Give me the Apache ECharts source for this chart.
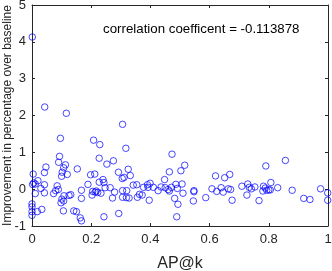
<!DOCTYPE html>
<html>
<head>
<meta charset="utf-8">
<script src="https://cdn.jsdelivr.net/npm/echarts@6/dist/echarts.min.js"></script>
<style>
html,body{margin:0;padding:0;background:#fff;}
#chart{width:332px;height:271px;}
</style>
</head>
<body>
<div id="chart"></div>
<script>
const xTicks = [0, 0.2, 0.4, 0.6, 0.8, 1];
const yTicks = [-1, 0, 1, 2, 3, 4, 5];
const annotation = 'correlation coefficent = -0.113878';
const xName = 'AP@k';
const yName = 'Improvement in percentage over baseline';

const apk = [
  0.001, 0.043, 0.116, 0.306, 0.096, 0.093, 0.090, 0.113, 0.107, 0.047,
  0.042, 0.153, 0.119, 0.102, 0.100, 0.004, 0.020, 0.006, 0.011, 0.002,
  0.030, 0.042, 0.042, 0.011, 0.085, 0.080, 0.073, 0.089, 0.108, 0.101,
  0.107, 0.098, 0.125, 0.131, 0.167, 0.167, 0.000, 0.000, 0.000, 0.000,
  0.018, 0.033, 0.106, 0.141, 0.150, 0.163, 0.167,
  0.208, 0.229, 0.317, 0.227, 0.253, 0.275, 0.212, 0.198, 0.292, 0.325,
  0.332, 0.311, 0.305, 0.227, 0.240, 0.243, 0.189, 0.247, 0.264, 0.279,
  0.233, 0.205, 0.213, 0.217, 0.222, 0.203, 0.306, 0.320, 0.306, 0.319,
  0.328, 0.272, 0.342, 0.243, 0.293,
  0.473, 0.516, 0.503, 0.464, 0.448, 0.354, 0.377, 0.392, 0.399, 0.390,
  0.410, 0.426, 0.436, 0.450, 0.460, 0.464, 0.471, 0.486, 0.491, 0.507,
  0.510, 0.482, 0.493, 0.489, 0.356, 0.363, 0.372, 0.396,
  0.620, 0.651, 0.668, 0.547, 0.547, 0.545, 0.587, 0.608, 0.624, 0.639,
  0.646, 0.663, 0.671, 0.676,
  0.790, 0.856, 0.709, 0.729, 0.734, 0.741, 0.753, 0.726, 0.767, 0.782,
  0.780, 0.788, 0.793, 0.800, 0.805, 0.807, 0.830,
  0.879, 0.918, 0.939, 0.975, 0.999, 0.999
];
const improvement = [
  4.13, 2.23, 2.06, 1.76, 1.38, 0.89, 0.73, 0.66, 0.58, 0.60,
  0.45, 0.55, 0.40, 0.46, 0.35, 0.41, 0.23, 0.17, 0.14, 0.13,
  0.02, 0.12, -0.10, -0.12, 0.09, -0.04, -0.12, -0.01, -0.18, -0.27,
  -0.32, -0.37, -0.17, -0.15, -0.03, -0.25, -0.40, -0.48, -0.61, -0.71,
  -0.61, -0.55, -0.59, -0.59, -0.61, -0.78, -0.86,
  1.33, 1.21, 1.11, 0.84, 0.68, 0.77, 0.41, 0.39, 0.46, 0.54,
  0.37, 0.32, 0.29, 0.19, 0.26, 0.18, 0.13, 0.04, 0.04, -0.08,
  -0.11, -0.06, -0.08, -0.05, -0.09, -0.16, -0.04, -0.04, -0.22, -0.23,
  -0.24, -0.24, 0.11, -0.75, -0.66,
  0.95, 0.65, 0.50, 0.47, 0.26, 0.12, 0.05, 0.05, 0.16, 0.12,
  0.05, -0.04, 0.06, 0.04, -0.01, -0.05, 0.05, 0.13, 0.02, 0.14,
  -0.11, -0.25, -0.41, -0.75, -0.22, -0.14, -0.16, -0.30,
  0.36, 0.31, 0.40, -0.04, -0.07, -0.32, -0.23, 0.01, -0.06, 0.04,
  -0.08, 0.01, -0.01, -0.30,
  0.63, 0.78, 0.08, 0.14, 0.05, 0.01, 0.06, -0.16, -0.31, 0.08,
  -0.05, 0.03, -0.03, -0.02, -0.02, 0.18, 0.04,
  -0.03, -0.25, -0.28, 0.01, -0.10, -0.30
];

const points = apk.map((x, i) => [x, improvement[i]]);
const axisColor = '#262626';
const font = 'Liberation Sans, Arial, Helvetica, sans-serif';

const chart = echarts.init(document.getElementById('chart'), null, {renderer: 'canvas'});
const xMin = xTicks[0], xMax = xTicks[xTicks.length - 1], xInt = xTicks[1] - xTicks[0];
const yMin = yTicks[0], yMax = yTicks[yTicks.length - 1], yInt = yTicks[1] - yTicks[0];

const baseX = {
  type: 'value', min: xMin, max: xMax, interval: xInt,
  axisLine: {show: true, onZero: false, lineStyle: {color: axisColor, width: 1}},
  axisTick: {show: true, inside: true, length: 3, lineStyle: {color: axisColor}},
  splitLine: {show: false}
};
const baseY = {
  type: 'value', min: yMin, max: yMax, interval: yInt,
  axisLine: {show: true, onZero: false, lineStyle: {color: axisColor, width: 1}},
  axisTick: {show: true, inside: true, length: 3, lineStyle: {color: axisColor}},
  splitLine: {show: false}
};

chart.setOption({
  animation: false,
  backgroundColor: '#ffffff',
  grid: {left: 32, right: 4, top: 5, bottom: 45, containLabel: false, outerBoundsMode: 'none'},
  xAxis: [
    Object.assign({}, baseX, {
      position: 'bottom',
      name: xName, nameLocation: 'middle', nameGap: 30, nameMoveOverlap: false,
      nameTextStyle: {fontSize: 16, color: axisColor, fontFamily: font},
      axisLabel: {show: true, fontSize: 13, color: axisColor, fontFamily: font, margin: 7,
        formatter: v => String(+v.toFixed(1))}
    }),
    Object.assign({}, baseX, {position: 'top', axisLabel: {show: false}})
  ],
  yAxis: [
    Object.assign({}, baseY, {
      position: 'left',
      name: yName, nameLocation: 'middle', nameGap: 18, nameRotate: 90, nameMoveOverlap: false,
      nameTextStyle: {fontSize: 12, color: axisColor, fontFamily: font},
      axisLabel: {show: true, fontSize: 13, color: axisColor, fontFamily: font, margin: 6}
    }),
    Object.assign({}, baseY, {position: 'right', axisLabel: {show: false}})
  ],
  graphic: [{
    type: 'text', left: 103, top: 23,
    style: {text: annotation, font: '13.3px ' + font, fill: '#000'}
  }],
  series: [{
    type: 'scatter',
    xAxisIndex: 0, yAxisIndex: 0,
    data: points,
    symbol: 'circle',
    symbolSize: 6.5,
    itemStyle: {color: 'rgba(0,0,0,0)', borderColor: '#0000ff', borderWidth: 0.9},
    emphasis: {disabled: true}
  }]
});
</script>
</body>
</html>
